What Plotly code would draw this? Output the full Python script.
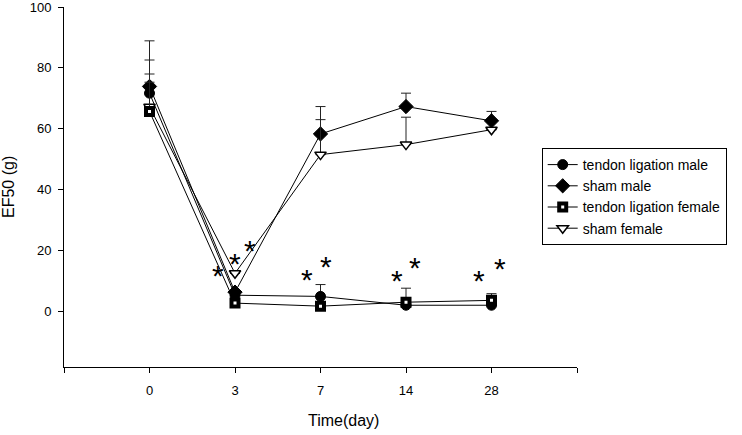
import plotly.graph_objects as go

days = ["0", "3", "7", "14", "28"]
xpos = [0, 1, 2, 3, 4]

tl_male = [71.7, 5.3, 4.9, 2.0, 2.0]
tl_male_err = [17.2, 0.0, 3.9, 0.0, 0.0]
sham_male = [73.9, 6.3, 58.3, 67.3, 62.6]
sham_male_err = [8.7, 0.0, 9.0, 4.4, 3.1]
tl_female = [65.7, 2.7, 1.7, 3.0, 3.6]
tl_female_err = [9.6, 0.0, 0.0, 4.6, 2.2]
sham_female = [67.2, 12.5, 51.5, 54.8, 59.7]
sham_female_err = [10.8, 0.0, 11.5, 9.0, 0.0]

# significance asterisks (x in category units, y in g)
star_x = [0.80, 1.0, 1.18, 1.84, 2.07, 2.89, 3.1, 3.85, 4.1]
star_y = [12.7, 16.7, 20.9, 11.4, 15.8, 11.0, 15.4, 11.2, 15.0]

fig = go.Figure()

def add(name, y, err, symbol, color, lw, size, rank):
    fig.add_trace(go.Scatter(
        x=xpos, y=y, name=name, mode="lines+markers", legendrank=rank,
        line=dict(color="black", width=1),
        marker=dict(symbol=symbol, size=size, color=color,
                    line=dict(color="black", width=lw)),
        error_y=dict(type="data", array=err, arrayminus=[0] * len(err),
                     symmetric=False, color="#222222", thickness=1, width=5),
    ))

# sham series drawn first (beneath)
add("sham male", sham_male, sham_male_err, "diamond", "black", 1, 11, 2)
add("sham female", sham_female, sham_female_err, "triangle-down", "white", 1.5, 10, 4)
add("tendon ligation male", tl_male, tl_male_err, "circle", "black", 1, 10, 1)
add("tendon ligation female", tl_female, tl_female_err, "square", "white", 4, 7, 3)

for sx, sy in zip(star_x, star_y):
    fig.add_annotation(x=sx, y=sy, xref="x", yref="y", text="*", showarrow=False,
                       font=dict(family="Liberation Sans, Arial", size=30, color="black"),
                       yshift=-3)

H = 367 - 7
fig.add_annotation(x=(8 - 64) / 513, y=0.5, xref="paper", yref="paper",
                   xanchor="center", yanchor="middle",
                   text="EF50 (g)", textangle=-90, showarrow=False,
                   font=dict(size=16, color="black"))
fig.add_annotation(x=(343 - 64) / 513, y=-(421 - 367) / H, xref="paper", yref="paper",
                   xanchor="center", yanchor="middle",
                   text="Time(day)", showarrow=False,
                   font=dict(size=16, color="black"))

fig.update_layout(
    width=742, height=435,
    margin=dict(l=64, r=165, t=7, b=68, autoexpand=False),
    paper_bgcolor="white", plot_bgcolor="white",
    font=dict(family="Liberation Sans, Arial", size=14, color="black"),
    showlegend=True,
    legend=dict(x=(541.7 - 64) / 513, y=(367 - 148) / H, xanchor="left", yanchor="top",
                bordercolor="black", borderwidth=1, bgcolor="white",
                font=dict(size=14), traceorder="normal", tracegroupgap=0),
    xaxis=dict(range=[-1, 5], tickvals=[-1, 0, 1, 2, 3, 4, 5],
               ticktext=[""] + days + [""], automargin=False,
               showline=True, linecolor="black", linewidth=1,
               ticks="outside", ticklen=5, tickcolor="black", tickfont=dict(size=13),
               showgrid=False, zeroline=False, ticklabelstandoff=6),
    yaxis=dict(range=[-18.3, 100.02], tickvals=[0, 20, 40, 60, 80, 100], automargin=False,
               showline=True, linecolor="black", linewidth=1, tickfont=dict(size=13),
               ticks="outside", ticklen=5, tickcolor="black", ticklabeloverflow="allow",
               showgrid=False, zeroline=False, ticklabelstandoff=4),
)

fig.write_html("out.html", config={"displayModeBar": False},
               post_script="document.body.style.margin='0';")
